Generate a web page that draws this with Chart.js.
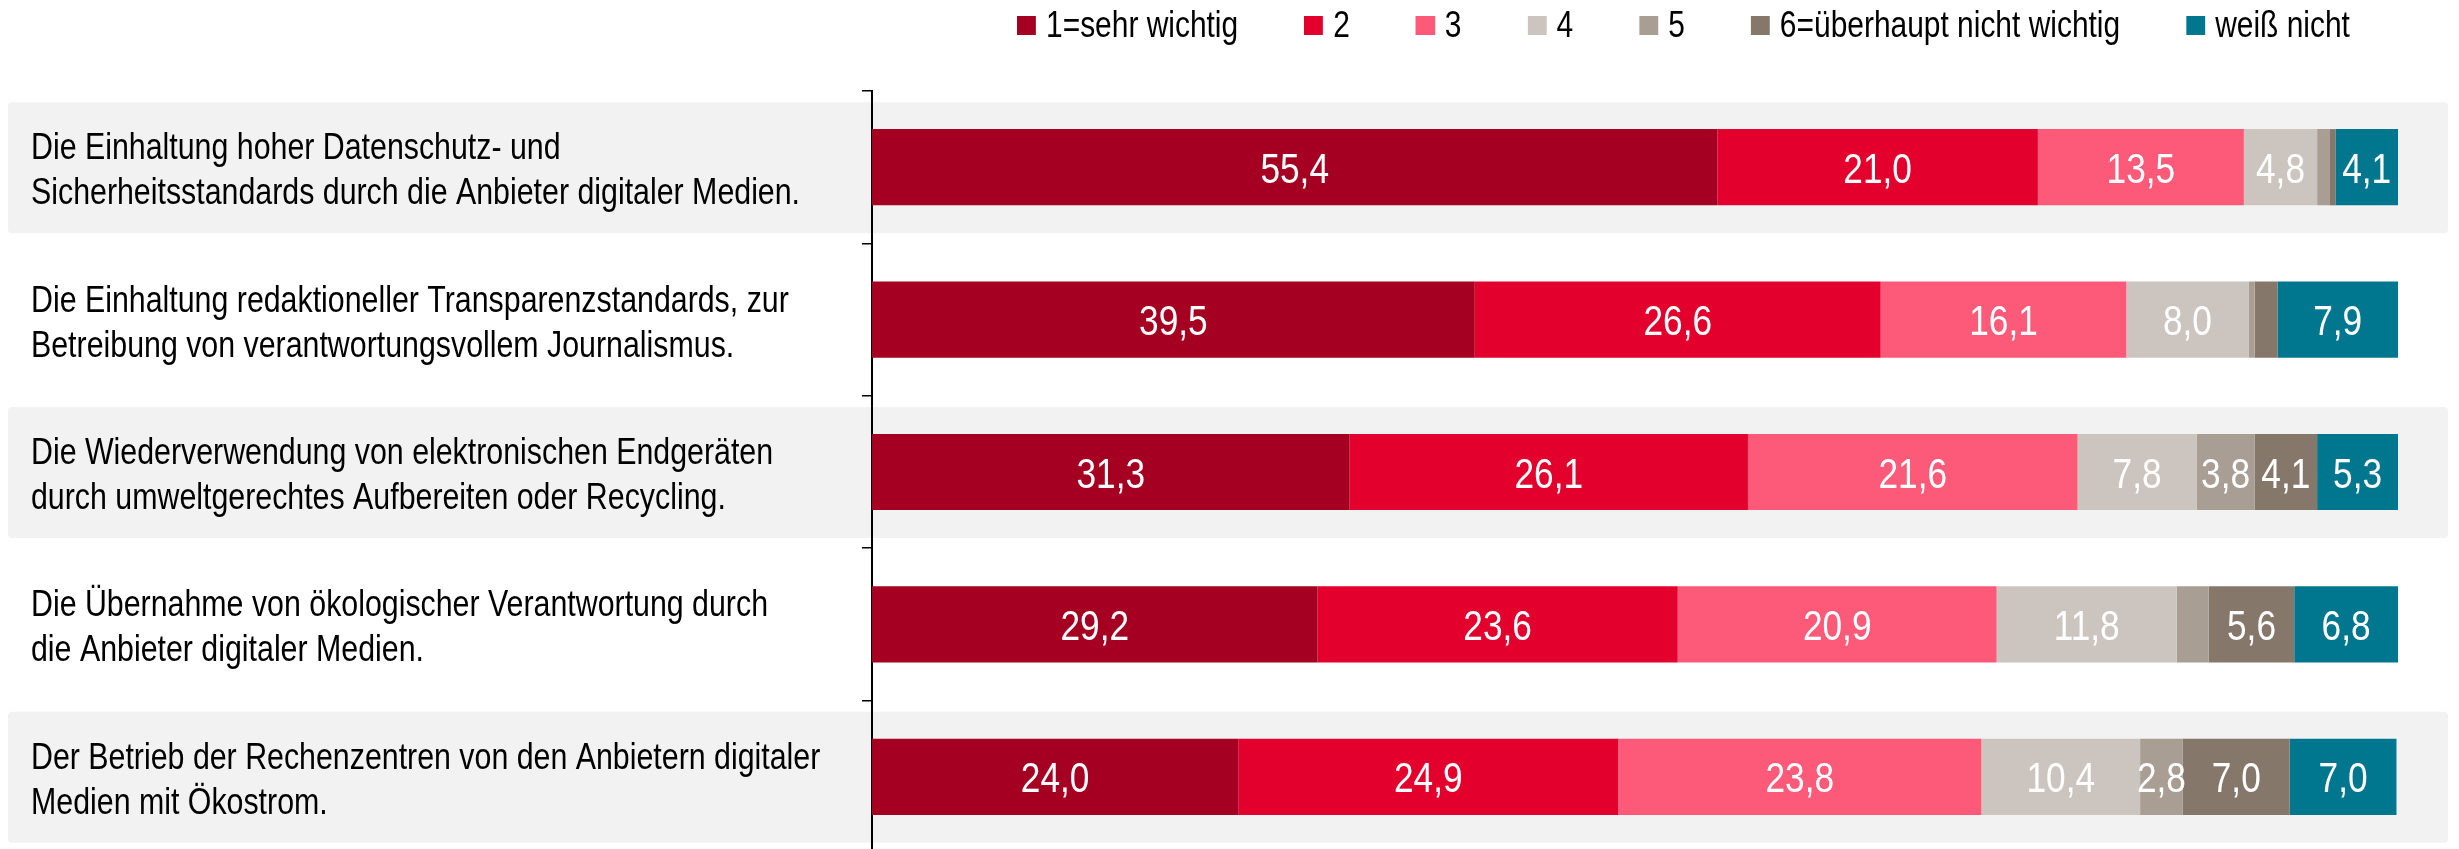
<!DOCTYPE html>
<html>
<head>
<meta charset="utf-8">
<script src="https://cdn.jsdelivr.net/npm/chart.js@4/dist/chart.umd.min.js"></script>
<style>
  html, body { margin: 0; padding: 0; background: #fff; overflow: hidden; }
  #wrap { position: relative; width: 2459px; height: 849px; overflow: hidden; }
  #legendContainer {
    position: absolute; left: 1017px; top: 7px; height: 36.5px;
    display: flex; align-items: center;
    font-family: 'Liberation Sans', Arial, sans-serif;
    font-size: 36.5px; line-height: 1; color: #000; white-space: nowrap;
    transform: scaleX(0.82); transform-origin: 0 0;
  }
  .legend-item { display: flex; align-items: center; margin-right: 80.5px; }
  .legend-color { width: 23.2px; height: 19px; margin-right: 12.2px; }
</style>
</head>
<body>
<div id="wrap">
  <canvas id="chart" width="2459" height="855"></canvas>
  <div id="legendContainer"></div>
</div>
<script>
  var FONT = "'Liberation Sans', Arial, sans-serif";
  var NARROW = 0.82; // Arial Narrow look: squeeze Liberation Sans horizontally

  // categories (y axis)
  var categories = [
    ['Die Einhaltung hoher Datenschutz- und', 'Sicherheitsstandards durch die Anbieter digitaler Medien.'],
    ['Die Einhaltung redaktioneller Transparenzstandards, zur', 'Betreibung von verantwortungsvollem Journalismus.'],
    ['Die Wiederverwendung von elektronischen Endgeräten', 'durch umweltgerechtes Aufbereiten oder Recycling.'],
    ['Die Übernahme von ökologischer Verantwortung durch', 'die Anbieter digitaler Medien.'],
    ['Der Betrieb der Rechenzentren von den Anbietern digitaler', 'Medien mit Ökostrom.']
  ];

  // series names
  var seriesNames = ['1=sehr wichtig', '2', '3', '4', '5', '6=überhaupt nicht wichtig', 'weiß nicht'];

  // values in percent, one array per answer
  var sehrWichtig = [55.4, 39.5, 31.3, 29.2, 24.0];
  var stufe2      = [21.0, 26.6, 26.1, 23.6, 24.9];
  var stufe3      = [13.5, 16.1, 21.6, 20.9, 23.8];
  var stufe4      = [4.8, 8.0, 7.8, 11.8, 10.4];
  var stufe5      = [0.8, 0.4, 3.8, 2.1, 2.8];
  var nichtWichtig = [0.4, 1.5, 4.1, 5.6, 7.0];
  var weissNicht  = [4.1, 7.9, 5.3, 6.8, 7.0];

  var seriesValues = [sehrWichtig, stufe2, stufe3, stufe4, stufe5, nichtWichtig, weissNicht];
  var seriesColors = ['#A50021', '#E3002D', '#FC5A78', '#CCC5BF', '#A99E94', '#85776A', '#00778E'];

  var datasets = seriesNames.map(function (name, i) {
    return {
      label: name,
      data: seriesValues[i],
      backgroundColor: seriesColors[i],
      borderWidth: 0,
      categoryPercentage: 1.0,
      barPercentage: 0.5
    };
  });

  // grey bands behind every second row
  var bandPlugin = {
    id: 'bands',
    beforeDraw: function (chart) {
      var ctx = chart.ctx;
      var y = chart.scales.y;
      ctx.save();
      ctx.fillStyle = '#F2F2F2';
      for (var i = 0; i < categories.length; i += 2) {
        var cy = y.getPixelForTick(i);
        ctx.beginPath();
        ctx.roundRect(8, cy - 65, 2440, 131, 4);
        ctx.fill();
      }
      ctx.restore();
    }
  };

  // narrow text helper
  function narrowText(ctx, text, x, y, align) {
    ctx.save();
    ctx.translate(x, y);
    ctx.scale(NARROW, 1);
    ctx.textAlign = align;
    ctx.fillText(text, 0, 0);
    ctx.restore();
  }

  // category labels, left aligned at the far side of the y axis
  var categoryLabels = {
    id: 'categoryLabels',
    afterDraw: function (chart) {
      var ctx = chart.ctx;
      var y = chart.scales.y;
      ctx.save();
      ctx.font = '37px ' + FONT;
      ctx.fillStyle = '#000';
      ctx.textBaseline = 'alphabetic';
      categories.forEach(function (lines, i) {
        var cy = y.getPixelForTick(i);
        lines.forEach(function (line, k) {
          var base = cy + 14.5 + (k - (lines.length - 1) / 2) * 45;
          narrowText(ctx, line, y.left, base, 'left');
        });
      });
      ctx.restore();
    }
  };

  // value labels inside the segments
  var valueLabels = {
    id: 'valueLabels',
    afterDatasetsDraw: function (chart) {
      var ctx = chart.ctx;
      ctx.save();
      ctx.font = '43px ' + FONT;
      ctx.fillStyle = '#fff';
      ctx.textBaseline = 'alphabetic';
      chart.data.datasets.forEach(function (ds, di) {
        var meta = chart.getDatasetMeta(di);
        meta.data.forEach(function (bar, j) {
          var v = ds.data[j];
          if (v < 2.5) return;
          var cx = (bar.x + bar.base) / 2;
          narrowText(ctx, v.toFixed(1).replace('.', ','), cx, bar.y + 15.5, 'center');
        });
      });
      ctx.restore();
    }
  };

  var ctx = document.getElementById('chart').getContext('2d');
  var chart = new Chart(ctx, {
    type: 'bar',
    data: { labels: categories, datasets: datasets },
    plugins: [bandPlugin, valueLabels, categoryLabels],
    options: {
      indexAxis: 'y',
      responsive: false,
      animation: false,
      devicePixelRatio: 1,
      layout: { padding: { left: 31, right: 61, top: 91, bottom: 2 } },
      plugins: {
        legend: { display: false },
        tooltip: { enabled: false }
      },
      scales: {
        x: {
          stacked: true,
          min: 0,
          max: 100,
          display: false
        },
        y: {
          stacked: true,
          afterFit: function (scale) {
            scale.width = 841;
            scale.paddingTop = 0;
            scale.paddingBottom = 0;
          },
          border: { display: true, color: '#000', width: 2 },
          grid: {
            offset: true,
            drawOnChartArea: false,
            drawTicks: true,
            tickLength: 10,
            color: '#000',
            lineWidth: 1.5
          },
          ticks: { display: false }
        }
      }
    }
  });

  // Display legend
  var legendContainer = document.getElementById('legendContainer');
  seriesNames.forEach(function (label, index) {
    var legendItem = document.createElement('div');
    legendItem.classList.add('legend-item');
    var legendColor = document.createElement('div');
    legendColor.classList.add('legend-color');
    legendColor.style.backgroundColor = seriesColors[index];
    legendItem.appendChild(legendColor);
    legendItem.appendChild(document.createTextNode(label));
    legendContainer.appendChild(legendItem);
  });
</script>
</body>
</html>
